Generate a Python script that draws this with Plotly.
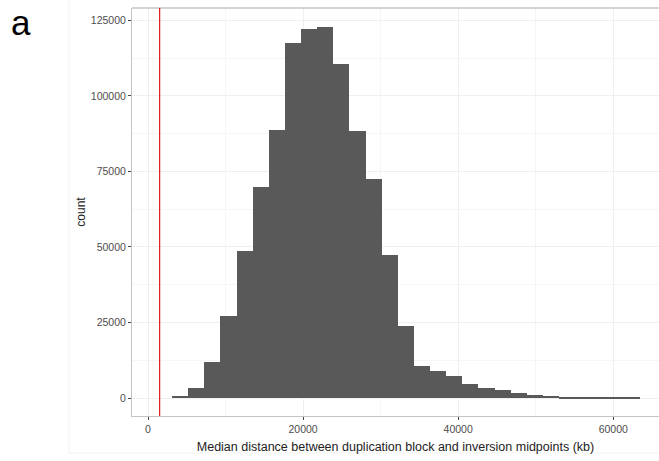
import plotly.graph_objects as go

# Histogram of median distances (kb): fixed-width bins and their counts
bin_start = 3100
bin_width = 2080
counts = [
    760, 3300, 11900, 27200, 48800, 69700, 88800, 117500, 122000, 122800,
    110700, 88400, 72400, 47500, 23900, 10700, 9000, 7200, 4800, 3300,
    2500, 1500, 1100, 800, 350, 150, 80, 40, 20,
]
# Reference distance drawn as a vertical line
ref_distance = 1500

x_ticks = [0, 20000, 40000, 60000]
y_ticks = [0, 25000, 50000, 75000, 100000, 125000]

centers = [bin_start + bin_width * (i + 0.5) for i in range(len(counts))]

fig = go.Figure()
fig.add_trace(go.Bar(
    x=centers,
    y=counts,
    width=[bin_width] * len(counts),
    marker=dict(color="#595959", line=dict(width=0)),
    showlegend=False,
))

font_family = "Liberation Sans, Arial, sans-serif"
grid_major = "#efefef"
grid_minor = "#f6f6f6"
border = "#c4c4c4"

fig.update_layout(
    width=659,
    height=461,
    margin=dict(l=132, r=0, t=8, b=45),
    paper_bgcolor="white",
    plot_bgcolor="white",
    bargap=0,
    font=dict(family=font_family),
    xaxis=dict(
        range=[-2065, 65900],
        tickvals=x_ticks,
        ticktext=[str(v) for v in x_ticks],
        showgrid=True, gridcolor=grid_major, gridwidth=1,
        minor=dict(dtick=10000, tick0=0, showgrid=True, gridcolor=grid_minor, gridwidth=1),
        zeroline=False,
        showline=True, linecolor=border, linewidth=1,
        ticks="outside", ticklen=3, tickcolor="#444444", tickwidth=1,
        tickfont=dict(size=10.5, color="#4d4d4d"),
        title=dict(
            text="Median distance between duplication block and inversion midpoints (kb)",
            font=dict(size=12.5, color="#222222"),
            standoff=8,
        ),
    ),
    yaxis=dict(
        range=[-5950, 129100],
        tickvals=y_ticks,
        ticktext=[str(v) for v in y_ticks],
        showgrid=True, gridcolor=grid_major, gridwidth=1,
        minor=dict(dtick=12500, tick0=0, showgrid=True, gridcolor=grid_minor, gridwidth=1),
        zeroline=False,
        showline=True, linecolor=border, linewidth=1,
        ticks="outside", ticklen=3, tickcolor="#444444", tickwidth=1,
        tickfont=dict(size=10.5, color="#4d4d4d"),
        title=dict(text="count", font=dict(size=12, color="#222222"), standoff=2),
    ),
    shapes=[
        # top edge of the panel
        dict(type="line", xref="paper", yref="paper", x0=0, x1=1, y0=1, y1=1,
             line=dict(color=border, width=1.5)),
        # reference distance
        dict(type="line", xref="x", yref="paper", x0=ref_distance, x1=ref_distance,
             y0=0, y1=1, line=dict(color="#e01818", width=1.2)),
        # faint frame around the figure area
        dict(type="rect", xref="paper", yref="paper", x0=-0.1195, x1=1.01,
             y0=-0.0907, y1=1.03, line=dict(color="#f2f2f2", width=1), layer="below"),
    ],
    annotations=[
        dict(text="a", xref="paper", yref="paper", x=(9 - 132) / 527, y=(416 - 0.5) / 408,
             xanchor="left", yanchor="top", showarrow=False,
             font=dict(size=35, color="black", family=font_family)),
    ],
)

fig.write_html("out.html")
